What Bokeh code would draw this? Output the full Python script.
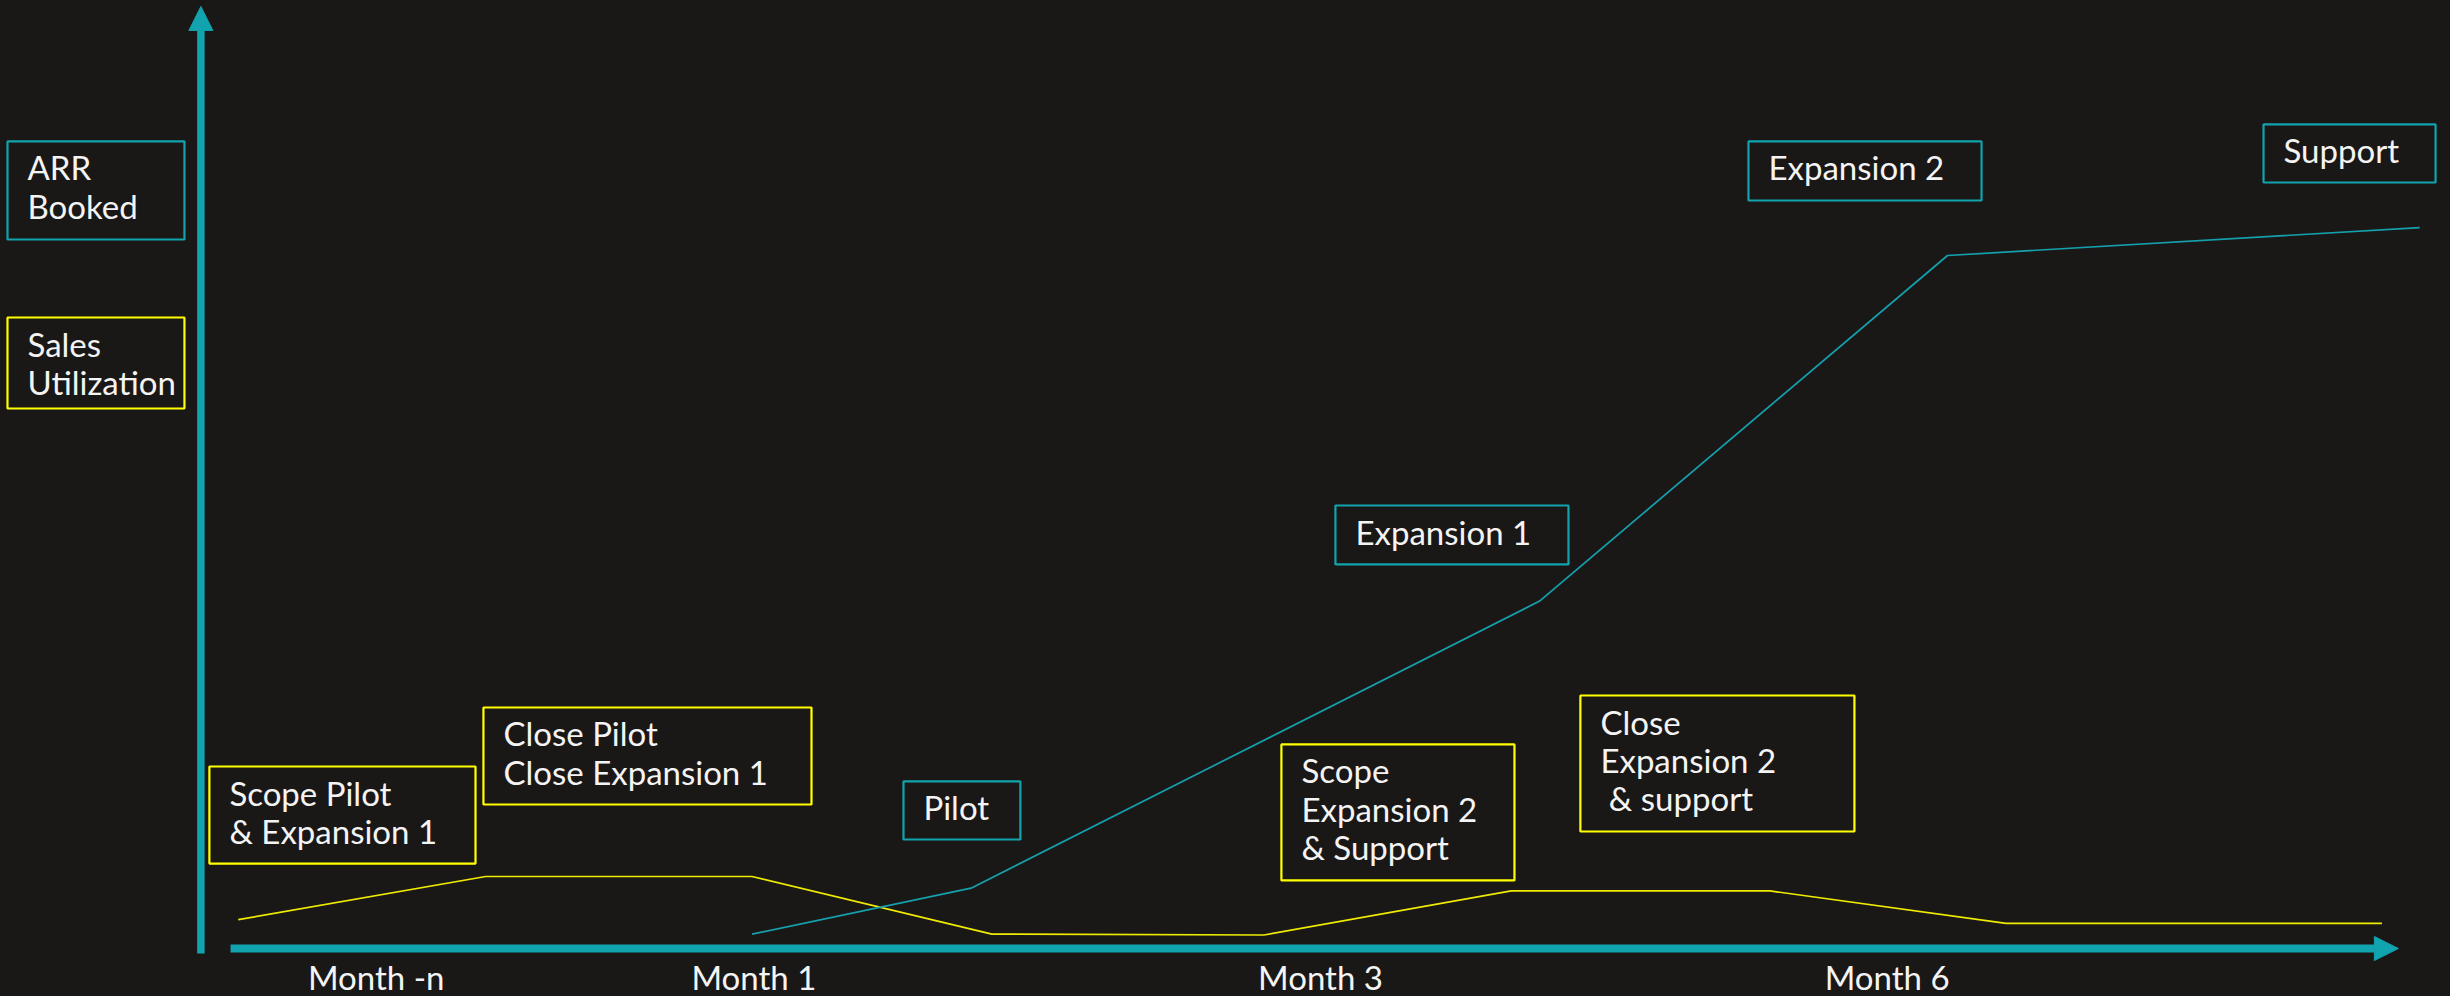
from bokeh.plotting import figure
from bokeh.models import Range1d, Arrow, NormalHead
from bokeh.embed import file_html
from bokeh.resources import INLINE
from bokeh.core.properties import value

# ---------------- data ----------------
tick_positions = [0, 2, 5, 8]
tick_labels = ["Month -n", "Month 1", "Month 3", "Month 6"]

# Sales Utilization (yellow)
sales_x = [-0.73, 0.58, 1.99, 3.26, 4.70, 6.01, 7.38, 8.63, 10.62]
sales_y = [3.2, 8.0, 8.0, 1.6, 1.5, 6.4, 6.4, 2.8, 2.8]

# ARR Booked (teal)
arr_x = [1.99, 3.15, 6.16, 8.32, 10.82]
arr_y = [1.6, 6.7, 38.6, 77.0, 80.1]

# annotation boxes
note_text = ["ARR\nBooked", "Sales\nUtilization", "Scope Pilot\n& Expansion 1",
             "Close Pilot\nClose Expansion 1", "Pilot", "Scope\nExpansion 2\n& Support",
             "Expansion 1", "Close\nExpansion 2\n\u00a0& support", "Expansion 2", "Support"]
note_kind = ["arr", "sales", "sales", "sales", "arr", "sales", "arr", "sales", "arr", "arr"]
note_left = [-1.952, -1.952, -0.883, 0.568, 2.792, 4.793, 5.079, 6.376, 7.266, 9.993]
note_right = [-1.015, -1.015, 0.526, 2.305, 3.411, 6.027, 6.313, 7.827, 8.500, 10.904]
note_top = [89.67, 70.11, 20.22, 26.78, 18.56, 22.67, 49.22, 28.11, 89.67, 91.56]
note_bottom = [78.78, 60.0, 9.44, 16.0, 12.11, 7.56, 42.67, 13.0, 83.11, 85.11]

# ---------------- style ----------------
BG = "#1a1817"
TEAL = "#11a3ae"
TEAL_LINE = "#14a0ad"
YELLOW_BOX = "#ffff00"
YELLOW_LINE = "#efeb00"
WHITE = "#f4f4f4"
FONT = value("Lato")

p = figure(width=2450, height=996,
           x_range=Range1d(-1.989, 10.983), y_range=Range1d(-5.333, 105.333),
           x_axis_type=None, y_axis_type=None,
           output_backend="svg", toolbar_location=None, min_border=0,
           background_fill_color=BG, border_fill_color=BG, outline_line_color=None)
p.grid.visible = False

# axes as arrows
p.add_layout(Arrow(end=NormalHead(size=24, fill_color=TEAL, line_color=TEAL, line_width=1),
                   x_start=-0.928, y_start=-0.56, x_end=-0.928, y_end=104.67,
                   line_color=TEAL, line_width=7.5))
p.add_layout(Arrow(end=NormalHead(size=24, fill_color=TEAL, line_color=TEAL, line_width=1),
                   x_start=-0.771, y_start=0, x_end=10.707, y_end=0,
                   line_color=TEAL, line_width=8))

# series
p.line(sales_x, sales_y, line_color=YELLOW_LINE, line_width=1.7)
p.line(arr_x, arr_y, line_color=TEAL_LINE, line_width=1.7)

# annotation boxes
colors = [TEAL if k == "arr" else YELLOW_BOX for k in note_kind]
p.quad(left=note_left, right=note_right, top=note_top, bottom=note_bottom,
       fill_alpha=0, line_color=colors, line_width=2.2)
p.text(x=note_left, y=note_top, text=note_text, x_offset=20, y_offset=6,
       text_align="left", text_baseline="top", text_font=FONT,
       text_font_size="33px", text_line_height=0.96, text_color=WHITE)

# tick labels
p.text(x=tick_positions, y=[0] * len(tick_positions), text=tick_labels,
       text_align="center", text_baseline="top", y_offset=8, text_font=FONT,
       text_font_size="33px", text_color=WHITE)

html = file_html(p, INLINE)
html = html.replace("</head>", "<style>html,body{background:%s;}</style></head>" % BG, 1)
open("out.html", "w").write(html)
